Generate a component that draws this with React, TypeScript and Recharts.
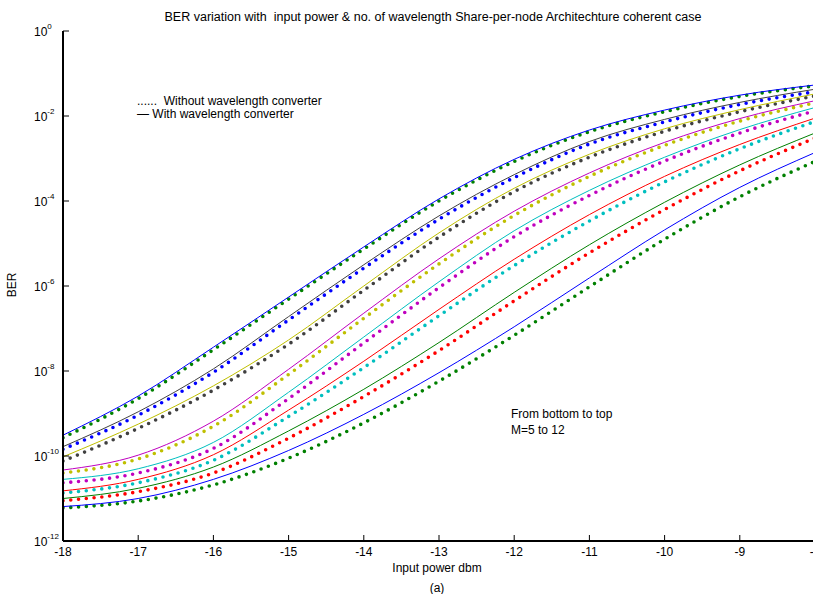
import React from 'react';
import { LineChart, Line, XAxis, YAxis } from 'recharts';

// Input power (dBm)
const power = [-18, -17, -16, -15, -14, -13, -12, -11, -10, -9, -8];
const xTicks = [-18, -17, -16, -15, -14, -13, -12, -11, -10, -9, -8];
const yTickExps = [0, -2, -4, -6, -8, -10, -12];

// log10(BER), with wavelength converter (solid lines), M = 5..12
const with5 = [-11.19, -11.0, -10.55, -9.87, -9.02, -8.04, -6.96, -5.81, -4.68, -3.68, -2.86];
const with6 = [-11.0, -10.76, -10.26, -9.41, -8.43, -7.33, -6.15, -5.03, -4.03, -3.15, -2.4];
const with7 = [-10.82, -10.55, -9.97, -8.92, -7.77, -6.55, -5.37, -4.32, -3.42, -2.67, -2.05];
const with8 = [-10.55, -10.3, -9.68, -8.5, -7.2, -5.9, -4.7, -3.75, -2.97, -2.32, -1.8];
const with9 = [-10.33, -9.98, -9.18, -7.96, -6.64, -5.36, -4.24, -3.34, -2.62, -2.06, -1.64];
const with10 = [-10.02, -9.25, -8.35, -7.27, -6.0, -4.75, -3.7, -2.9, -2.3, -1.85, -1.48];
const with11 = [-9.78, -8.96, -7.95, -6.72, -5.5, -4.35, -3.38, -2.6, -2.08, -1.68, -1.37];
const with12 = [-9.51, -8.59, -7.44, -6.26, -5.08, -3.95, -3.02, -2.33, -1.86, -1.51, -1.27];

// log10(BER), without wavelength converter (dotted), M = 5..12
const without5 = [-11.22, -11.06, -10.68, -10.05, -9.22, -8.24, -7.16, -6.02, -4.9, -3.9, -3.07];
const without6 = [-11.05, -10.84, -10.4, -9.58, -8.6, -7.52, -6.35, -5.22, -4.2, -3.29, -2.52];
const without7 = [-10.87, -10.63, -10.1, -9.07, -7.92, -6.7, -5.52, -4.47, -3.55, -2.77, -2.13];
const without8 = [-10.63, -10.4, -9.82, -8.65, -7.34, -6.04, -4.84, -3.87, -3.06, -2.4, -1.88];
const without9 = [-10.4, -10.07, -9.3, -8.08, -6.76, -5.48, -4.34, -3.42, -2.69, -2.12, -1.69];
const without10 = [-10.12, -9.35, -8.45, -7.37, -6.1, -4.85, -3.78, -2.97, -2.36, -1.9, -1.53];
const without11 = [-9.84, -9.04, -8.03, -6.8, -5.58, -4.43, -3.45, -2.66, -2.14, -1.73, -1.43];
const without12 = [-9.57, -8.65, -7.5, -6.31, -5.13, -4.0, -3.07, -2.37, -1.9, -1.54, -1.29];

const withSeries = [with5, with6, with7, with8, with9, with10, with11, with12];
const withoutSeries = [without5, without6, without7, without8, without9, without10, without11, without12];

const withColors = ['#0000FF', '#008000', '#FF0000', '#00BFBF', '#BF00BF', '#BFBF00', '#404040', '#0000FF'];
const withoutColors = ['#008000', '#FF0000', '#00BFBF', '#BF00BF', '#BFBF00', '#404040', '#0000FF', '#008000'];

const data = power.map((p, i) => {
  const row: Record<string, number> = { x: p };
  withSeries.forEach((s, k) => { row['w' + k] = Math.pow(10, s[i]); });
  withoutSeries.forEach((s, k) => { row['n' + k] = Math.pow(10, s[i]); });
  return row;
});

const FONT = 'Liberation Sans, Arial, Helvetica, sans-serif';

const BottomTick = (props: any) => {
  const { x, y, payload } = props;
  return (
    <g>
      <line x1={x} y1={y} x2={x} y2={y - 6} stroke="#000" strokeWidth={1} />
      <text x={x} y={y + 15} textAnchor="middle" fontSize={12} fontFamily={FONT} fill="#000">{payload.value}</text>
    </g>
  );
};
const TopTick = (props: any) => {
  const { x, y } = props;
  return <line x1={x} y1={y} x2={x} y2={y + 6} stroke="#000" strokeWidth={1} />;
};
const LeftTick = (props: any) => {
  const { x, y, payload } = props;
  const e = Math.round(Math.log10(payload.value));
  return (
    <g>
      <line x1={x} y1={y} x2={x + 6} y2={y} stroke="#000" strokeWidth={1} />
      <text x={x - 29} y={y + 5} textAnchor="start" fontSize={12} fontFamily={FONT} fill="#000">
        10<tspan dy={-7} fontSize={8}>{e}</tspan>
      </text>
    </g>
  );
};
const RightTick = (props: any) => {
  const { x, y } = props;
  return <line x1={x} y1={y} x2={x - 6} y2={y} stroke="#000" strokeWidth={1} />;
};

export default function App() {
  const yTicks = yTickExps.map((e) => Math.pow(10, e));
  return (
    <div style={{ position: 'absolute', left: 0, top: 0, width: 813, height: 594, overflow: 'hidden', background: '#fff' }}>
      <LineChart width={820} height={594} data={data} margin={{ top: 31, right: 5, bottom: 23, left: 3 }}>
        <XAxis dataKey="x" type="number" domain={[-18, -8]} ticks={xTicks} interval={0} allowDataOverflow
          tickSize={0} tickMargin={0} tickLine={false} tick={<BottomTick />} axisLine={{ stroke: '#000', strokeWidth: 2 }} height={30} />
        <XAxis xAxisId="top" orientation="top" dataKey="x" type="number" domain={[-18, -8]} ticks={xTicks} interval={0} allowDataOverflow
          tickSize={0} tickMargin={0} tickLine={false} tick={<TopTick />} axisLine={{ stroke: '#000', strokeWidth: 1 }} height={0} />
        <YAxis scale="log" type="number" domain={[1e-12, 1]} ticks={yTicks} interval={0} allowDataOverflow
          tickSize={0} tickMargin={0} tickLine={false} tick={<LeftTick />} axisLine={{ stroke: '#000', strokeWidth: 2 }} width={60} />
        <YAxis yAxisId="right" orientation="right" scale="log" type="number" domain={[1e-12, 1]} ticks={yTicks} interval={0} allowDataOverflow
          tickSize={0} tickMargin={0} tickLine={false} tick={<RightTick />} axisLine={{ stroke: '#000', strokeWidth: 1 }} width={0} />
        {withoutSeries.map((_, k) => (
          <Line key={'n' + k} dataKey={'n' + k} type="monotone" stroke={withoutColors[k]} strokeWidth={3.6}
            strokeDasharray="0 7.8" strokeLinecap="round" dot={false} activeDot={false} isAnimationActive={false} />
        ))}
        {withSeries.map((_, k) => (
          <Line key={'w' + k} dataKey={'w' + k} type="monotone" stroke={withColors[k]} strokeWidth={1}
            dot={false} activeDot={false} isAnimationActive={false} />
        ))}
      </LineChart>
      <svg width={813} height={594} style={{ position: 'absolute', left: 0, top: 0, pointerEvents: 'none' }}>
        <g fontFamily={FONT} fill="#000">
          <text x={433} y={21} textAnchor="middle" fontSize={12} textLength={537} lengthAdjust="spacingAndGlyphs" style={{ whiteSpace: 'pre' }}>
            BER variation with  input power &amp; no. of wavelength Share-per-node Architechture coherent case
          </text>
          <text x={437} y={572} textAnchor="middle" fontSize={12}>Input power dbm</text>
          <text x={437} y={592} textAnchor="middle" fontSize={12}>(a)</text>
          <text x={0} y={0} transform="translate(16,285) rotate(-90)" textAnchor="middle" fontSize={12}>BER</text>
          <text x={137} y={105} fontSize={12} style={{ whiteSpace: 'pre' }}>......  Without wavelength converter</text>
          <text x={137} y={118} fontSize={12} style={{ whiteSpace: 'pre' }}>— With wavelength converter</text>
          <text x={511} y={418} fontSize={12}>From bottom to top</text>
          <text x={511} y={434} fontSize={12}>M=5 to 12</text>
        </g>
      </svg>
    </div>
  );
}
